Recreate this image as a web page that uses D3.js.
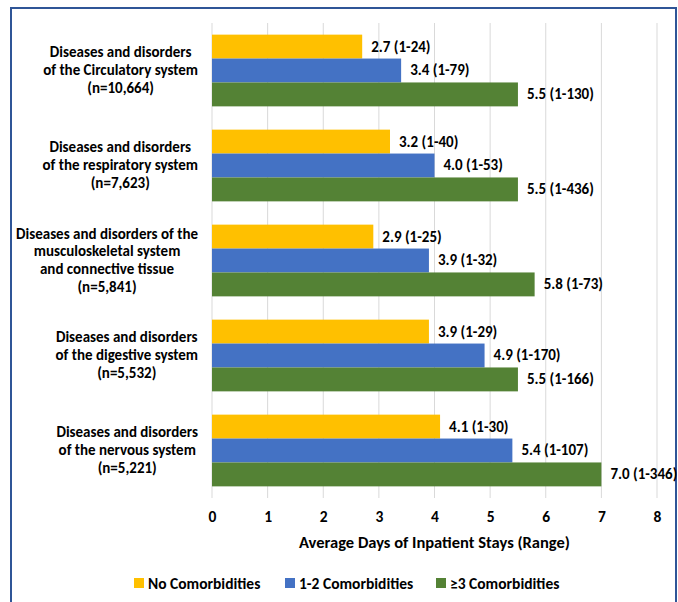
<!DOCTYPE html>
<html>
<head>
<meta charset="utf-8">
<script src="https://cdn.jsdelivr.net/npm/d3@7"></script>
<style>
  body { margin: 0; background: #fff; }
  svg text { font-family: Carlito, Calibri, "Liberation Sans", Arial, sans-serif; font-weight: bold; fill: #000; }
</style>
</head>
<body>
<div id="chart"></div>
<script>
// Constants for the chart
const WIDTH = 678;
const HEIGHT = 602;
const MARGIN = { left: 212, right: 21, top: 23, bottom: 104 };

// categories, top to bottom
const categories = [
  ["Diseases and disorders", "of the Circulatory system", "(n=10,664)"],
  ["Diseases and disorders", "of the respiratory system", "(n=7,623)"],
  ["Diseases and disorders of the", "musculoskeletal system", "and connective tissue", "(n=5,841)"],
  ["Diseases and disorders", "of the digestive system", "(n=5,532)"],
  ["Diseases and disorders", "of the nervous system", "(n=5,221)"]
];
const seriesNames = ["No Comorbidities", "1-2 Comorbidities", "\u22653 Comorbidities"];
const seriesColors = ["#FFC000", "#4472C4", "#548235"];

// average days per series
const noComorb = [2.7, 3.2, 2.9, 3.9, 4.1];
const oneTwoComorb = [3.4, 4.0, 3.9, 4.9, 5.4];
const threePlusComorb = [5.5, 5.5, 5.8, 5.5, 7.0];

// ranges per series
const noComorbRange = ["1-24", "1-40", "1-25", "1-29", "1-30"];
const oneTwoComorbRange = ["1-79", "1-53", "1-32", "1-170", "1-107"];
const threePlusComorbRange = ["1-130", "1-436", "1-73", "1-166", "1-346"];

const xTicks = [0, 1, 2, 3, 4, 5, 6, 7, 8];

const values = [noComorb, oneTwoComorb, threePlusComorb];
const ranges = [noComorbRange, oneTwoComorbRange, threePlusComorbRange];

const svg = d3.select("#chart").append("svg")
  .attr("width", WIDTH).attr("height", HEIGHT);

// outer frame
svg.append("rect")
  .attr("x", 11).attr("y", 8)
  .attr("width", 665).attr("height", 610)
  .attr("fill", "none").attr("stroke", "#2F5597").attr("stroke-width", 2);

const x = d3.scaleLinear()
  .domain([0, 8])
  .range([MARGIN.left, WIDTH - MARGIN.right]);

const y = d3.scaleBand()
  .domain(d3.range(categories.length))
  .range([MARGIN.top, HEIGHT - MARGIN.bottom])
  .paddingInner(0.245).paddingOuter(0.1225);

const ySub = d3.scaleBand()
  .domain(d3.range(seriesNames.length))
  .range([0, y.bandwidth()]);

// gridlines
svg.append("g")
  .selectAll("line")
  .data(xTicks)
  .join("line")
  .attr("x1", d => x(d)).attr("x2", d => x(d))
  .attr("y1", MARGIN.top).attr("y2", HEIGHT - MARGIN.bottom)
  .attr("stroke", "#D9D9D9").attr("stroke-width", 1);

// x axis tick labels
const xAxis = svg.append("g")
  .attr("transform", `translate(0,${HEIGHT - MARGIN.bottom})`)
  .call(d3.axisBottom(x).tickValues(xTicks).tickSize(0).tickPadding(13));
xAxis.select(".domain").remove();
xAxis.selectAll("text")
  .style("font-family", "Carlito, Calibri, 'Liberation Sans', Arial, sans-serif")
  .style("font-weight", "bold").style("font-size", "15.5px").attr("fill", "#000");

// axis title
svg.append("text")
  .attr("x", (x(0) + x(8)) / 2).attr("y", 548)
  .attr("text-anchor", "middle").style("font-size", "16.5px")
  .text("Average Days of Inpatient Stays (Range)");

// bars
const groups = svg.append("g").selectAll("g")
  .data(categories)
  .join("g")
  .attr("transform", (d, i) => `translate(0,${y(i)})`);

groups.each(function (cat, ci) {
  const g = d3.select(this);
  values.forEach((vals, si) => {
    g.append("rect")
      .attr("x", x(0))
      .attr("y", ySub(si))
      .attr("width", x(vals[ci]) - x(0))
      .attr("height", ySub.bandwidth())
      .attr("fill", seriesColors[si]);
    g.append("text")
      .attr("x", x(vals[ci]) + 9)
      .attr("y", ySub(si) + ySub.bandwidth() / 2 + 5)
      .style("font-size", "15px")
      .text(`${vals[ci].toFixed(1)} (${ranges[si][ci]})`);
  });
  // category label: lines centred inside a block whose right edge is at 198
  const lineH = 18;
  const cy = y.bandwidth() / 2;
  const n = cat.length;
  const label = g.append("text")
    .attr("text-anchor", "middle")
    .style("font-size", "15px");
  const spans = label.selectAll("tspan")
    .data(cat)
    .join("tspan")
    .attr("y", (d, i) => cy + (i - (n - 1) / 2) * lineH + 5)
    .text(d => d);
  let maxW = 0;
  spans.each(function () { maxW = Math.max(maxW, this.getComputedTextLength()); });
  spans.attr("x", 198 - maxW / 2);
});

// legend
const legendX = [134, 285, 436];
const legend = svg.append("g").selectAll("g")
  .data(seriesNames)
  .join("g")
  .attr("transform", (d, i) => `translate(${legendX[i]},583)`);
legend.append("rect")
  .attr("x", 0).attr("y", -5).attr("width", 10).attr("height", 10)
  .attr("fill", (d, i) => seriesColors[i]);
legend.append("text")
  .attr("x", 14).attr("y", 5.5)
  .style("font-size", "15.5px")
  .text(d => d);
</script>
</body>
</html>
